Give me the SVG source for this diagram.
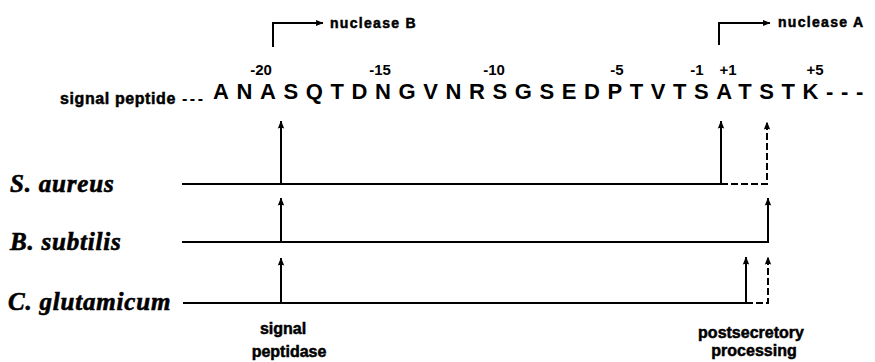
<svg xmlns="http://www.w3.org/2000/svg" width="875" height="362" viewBox="0 0 875 362">
  <style>
    .sans { font-family: "Liberation Sans", Arial, sans-serif; font-weight: bold; fill: #000; }
    .heavy { stroke: #000; stroke-width: 0.5; }
    .seq { font-size: 22px; letter-spacing: 7.6px; }
    .num { font-size: 15px; text-anchor: middle; }
    .lbl { font-size: 16px; }
    .note { font-size: 14px; letter-spacing: 1.3px; }
    .cap { font-size: 16px; text-anchor: middle; }
    .org { font-family: "Liberation Serif", "Times New Roman", serif; font-weight: bold; font-style: italic; font-size: 25px; letter-spacing: 0.8px; fill: #000; stroke: #000; stroke-width: 0.6; }
    .ln { fill: none; stroke: #000; stroke-width: 2; }
    .dash { stroke-dasharray: 7 3; }
  </style>
  <defs>
    <marker id="ah" viewBox="0 0 8 8" refX="7.5" refY="4" markerWidth="8" markerHeight="8" markerUnits="userSpaceOnUse" orient="auto">
      <path d="M0,0.8 L8,4 L0,7.2 Q1.5,4 0,0.8 Z" fill="#000"/>
    </marker>
  </defs>

  <!-- sequence header -->
  <g id="sequence">
    <text class="sans lbl heavy" x="60" y="104" style="letter-spacing:0.6px">signal peptide</text>
    <text class="sans lbl" x="182" y="104" style="letter-spacing:2.5px">---</text>
    <text class="sans seq" x="213" y="99">ANASQTDNGVNRSGSEDPTVTSATSTK---</text>
  </g>

  <g id="positions">
    <text class="sans num" x="261" y="75">-20</text>
    <text class="sans num" x="380" y="75">-15</text>
    <text class="sans num" x="494" y="75">-10</text>
    <text class="sans num" x="617" y="75">-5</text>
    <text class="sans num" x="697" y="75">-1</text>
    <text class="sans num" x="728" y="75">+1</text>
    <text class="sans num" x="815" y="75">+5</text>
  </g>

  <g id="nuclease-b">
    <text class="sans note heavy" x="330" y="28">nuclease B</text>
  </g>
  <g id="nuclease-a">
    <text class="sans note heavy" x="778" y="27">nuclease A</text>
  </g>

  <g id="s-aureus">
    <text class="org" x="10" y="192">S. aureus</text>
  </g>
  <g id="b-subtilis">
    <text class="org" x="10" y="250">B. subtilis</text>
  </g>
  <g id="c-glutamicum">
    <text class="org" x="8" y="310">C. glutamicum</text>
  </g>

  <g id="signal-peptidase">
    <text class="sans cap heavy" x="283" y="334">signal</text>
    <text class="sans cap heavy" x="289" y="357">peptidase</text>
  </g>
  <g id="postsecretory-processing">
    <text class="sans cap heavy" x="751" y="338">postsecretory</text>
    <text class="sans cap heavy" x="754" y="356">processing</text>
  </g>

  <g id="connectors">
    <!-- start-site brackets -->
    <path class="ln" d="M273,47 V23 H323" marker-end="url(#ah)"/>
    <path class="ln" d="M719,45 V23 H770" marker-end="url(#ah)"/>

    <!-- S. aureus -->
    <line class="ln" x1="182" y1="184" x2="721" y2="184"/>
    <path class="ln dash" d="M721,184 H767 V122" marker-end="url(#ah)"/>
    <line class="ln" x1="721" y1="184" x2="721" y2="121" marker-end="url(#ah)"/>
    <line class="ln" x1="281" y1="184" x2="281" y2="121" marker-end="url(#ah)"/>

    <!-- B. subtilis -->
    <path class="ln" d="M182,242 H768 V198" marker-end="url(#ah)"/>
    <line class="ln" x1="281" y1="242" x2="281" y2="198" marker-end="url(#ah)"/>

    <!-- C. glutamicum -->
    <line class="ln" x1="183" y1="303" x2="746" y2="303"/>
    <line class="ln" x1="746" y1="303" x2="746" y2="257" marker-end="url(#ah)"/>
    <path class="ln dash" d="M746,303 H768 V257" marker-end="url(#ah)"/>
    <line class="ln" x1="281" y1="303" x2="281" y2="258" marker-end="url(#ah)"/>
  </g>
</svg>
